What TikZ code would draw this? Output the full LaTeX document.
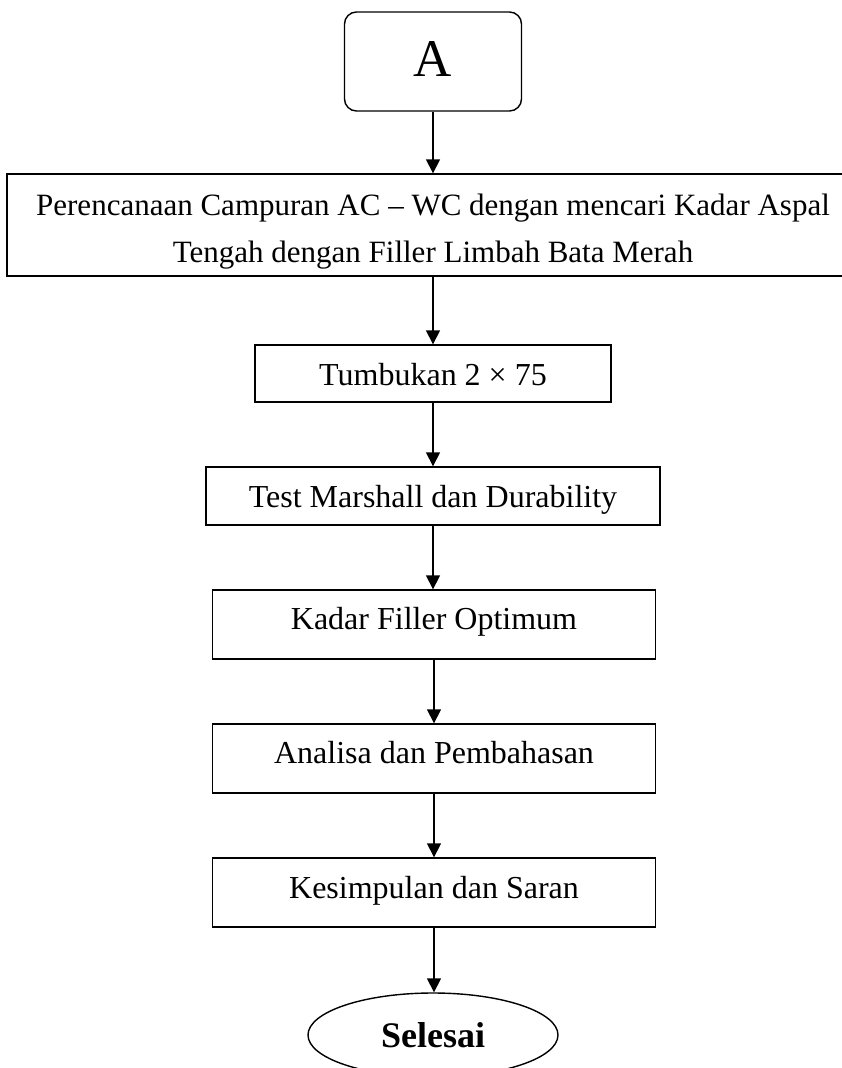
\documentclass[tikz,border=0pt]{standalone}
\usepackage{fontspec}
\setmainfont{Liberation Serif}
\usetikzlibrary{arrows.meta,shapes.geometric}
\tikzset{
  proses/.style={draw, line width=1.4pt, inner sep=0pt, font=\fontsize{32}{47}\selectfont},
  panah/.style={line width=1.6pt, -{Triangle[length=14pt,width=14pt]}}
}

\begin{document}
\begin{tikzpicture}[x=1pt,y=-1pt]
\useasboundingbox (0,0) rectangle (842,1068);
\clip (0,0) rectangle (842,1068);
\node[proses, rounded corners=12pt, anchor=base, minimum width=177pt, text height=64pt, text depth=35pt, font=\fontsize{53}{60}\selectfont] (A) at (433,76) {A};
\node[proses, align=center, minimum width=852pt, minimum height=102pt, font=\fontsize{31}{47}\selectfont] (rencana) at (433,225) {\rule{0pt}{34pt}Perencanaan Campuran AC – WC dengan mencari Kadar Aspal\\Tengah dengan Filler Limbah Bata Merah};
\node[proses, anchor=base, minimum width=356pt, text height=40pt, text depth=17pt] (tumbukan) at (433,385) {Tumbukan 2 × 75};
\node[proses, anchor=base, minimum width=454pt, text height=40pt, text depth=18pt] (marshall) at (433,507) {Test Marshall dan Durability};
\node[proses, anchor=base, minimum width=443pt, text height=39pt, text depth=30pt] (kadar) at (434,629) {Kadar Filler Optimum};
\node[proses, anchor=base, minimum width=443pt, text height=39pt, text depth=30pt] (analisa) at (434,763) {Analisa dan Pembahasan};
\node[proses, anchor=base, minimum width=443pt, text height=40pt, text depth=29pt] (kesimpulan) at (434,898) {Kesimpulan dan Saran};
\node[draw, ellipse, line width=1.4pt, inner sep=0pt, minimum width=250pt, minimum height=84pt, text height=24pt, text depth=0pt, font=\bfseries\fontsize{36}{40}\selectfont] (selesai) at (433,1035) {Selesai};
% panah antar langkah
\foreach \a/\b in {A/rencana, rencana/tumbukan, tumbukan/marshall, marshall/kadar, kadar/analisa, analisa/kesimpulan, kesimpulan/selesai}
  \draw[panah] (\a.south) -- (\a.south |- \b.north);
\end{tikzpicture}
\end{document}
